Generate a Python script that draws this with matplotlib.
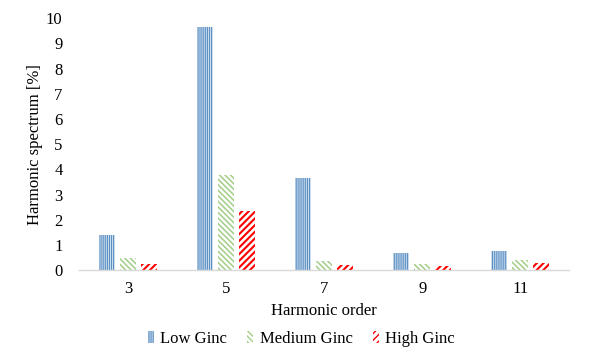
import matplotlib
matplotlib.use("Agg")
import matplotlib.pyplot as plt
import numpy as np

categories = ["3", "5", "7", "9", "11"]
series_names = ["Low Ginc", "Medium Ginc", "High Ginc"]
low = [1.40, 9.63, 3.65, 0.70, 0.77]
medium = [0.49, 3.77, 0.36, 0.25, 0.42]
high = [0.25, 2.34, 0.20, 0.15, 0.30]
yticks = list(range(0, 11))

colors = ["#5b90c4", "#a2cd86", "#ff0000"]
hatches = ["|" * 8, "\\" * 6, "/" * 5]
hlw = [1.0, 1.1, 1.5]

plt.rcParams['font.family'] = ['Liberation Serif', 'DejaVu Serif']

fig = plt.figure(figsize=(5.91, 3.55), dpi=100)
ax = fig.add_axes([0.134, 0.239, 0.829, 0.71])

x = np.arange(len(categories))
w = 0.165
off = 0.215
handles = []
for i, (vals, name) in enumerate(zip([low, medium, high], series_names)):
    with plt.rc_context({'hatch.linewidth': hlw[i]}):
        bars = ax.bar(x + (i - 1) * off, vals, width=w, facecolor="white",
                      edgecolor=colors[i], linewidth=0, hatch=hatches[i], label=name)
        for b in bars:
            if hasattr(b, "set_hatch_linewidth"):
                b.set_hatch_linewidth(hlw[i])
    handles.append(bars)

ax.set_xlim(-0.5, len(categories) - 0.5)
ax.set_ylim(0, 10)
ax.set_yticks(yticks)
ax.set_xticks(x)
ax.set_xticklabels(categories)
ax.tick_params(length=0, labelsize=12, colors="black")
ax.tick_params(axis='y', pad=12)
ax.tick_params(axis='x', pad=8)
for s in ["top", "right", "left"]:
    ax.spines[s].set_visible(False)
ax.spines["bottom"].set_color("#d9d9d9")
ax.spines["bottom"].set_linewidth(1.0)

ax.set_xlabel("Harmonic order", fontsize=12, labelpad=4)
ax.set_ylabel("Harmonic spectrum [%]", fontsize=12, labelpad=2)

leg = fig.legend(handles=handles, labels=series_names, loc="lower center",
                 bbox_to_anchor=(0.51, -0.02), ncol=3, frameon=False, fontsize=12,
                 handlelength=0.35, handleheight=0.7, handletextpad=0.4, columnspacing=1.2)

fig.savefig("out.png", dpi=100)
